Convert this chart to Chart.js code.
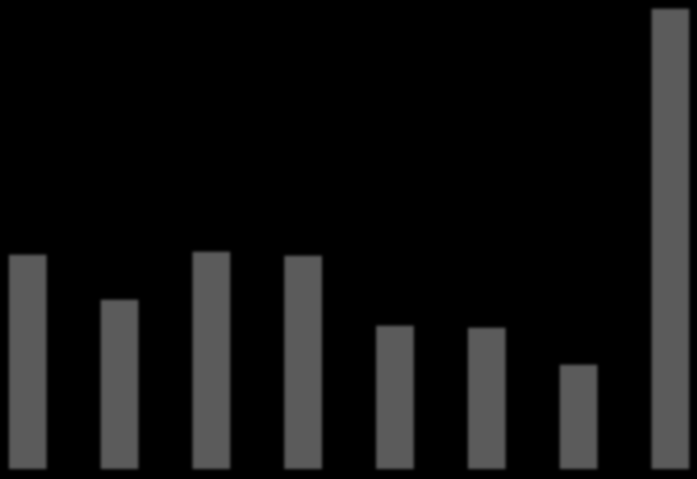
<!DOCTYPE html>
<html>
<head>
<meta charset="utf-8">
<script src="https://cdn.jsdelivr.net/npm/chart.js@4/dist/chart.umd.min.js"></script>
<style>
  html, body { margin: 0; padding: 0; background: #000; overflow: hidden; }
  #wrap { position: relative; width: 697px; height: 479px; }
  #chart { filter: blur(1.5px); }
</style>
</head>
<body>
<div id="wrap"><canvas id="chart"></canvas></div>
<script>
var categories = [0, 1, 2, 3, 4, 5, 6, 7];
var values = [214, 169, 217, 213, 143, 141, 104, 460];

var points = categories.map(function (c, i) {
  return { x: c, y: values[i] };
});

new Chart(document.getElementById('chart'), {
  type: 'bar',
  data: {
    datasets: [{
      data: points,
      backgroundColor: '#5b5b5b',
      borderWidth: 0,
      barThickness: 37
    }]
  },
  options: {
    responsive: true,
    maintainAspectRatio: false,
    animation: false,
    layout: { padding: { top: 0, bottom: 10, left: 0, right: 0 } },
    plugins: { legend: { display: false }, tooltip: { enabled: false } },
    scales: {
      x: { type: 'linear', min: -0.302, max: 7.29, offset: false, bounds: 'ticks', display: false },
      y: { min: 0, max: 469, display: false }
    }
  }
});
</script>
</body>
</html>
